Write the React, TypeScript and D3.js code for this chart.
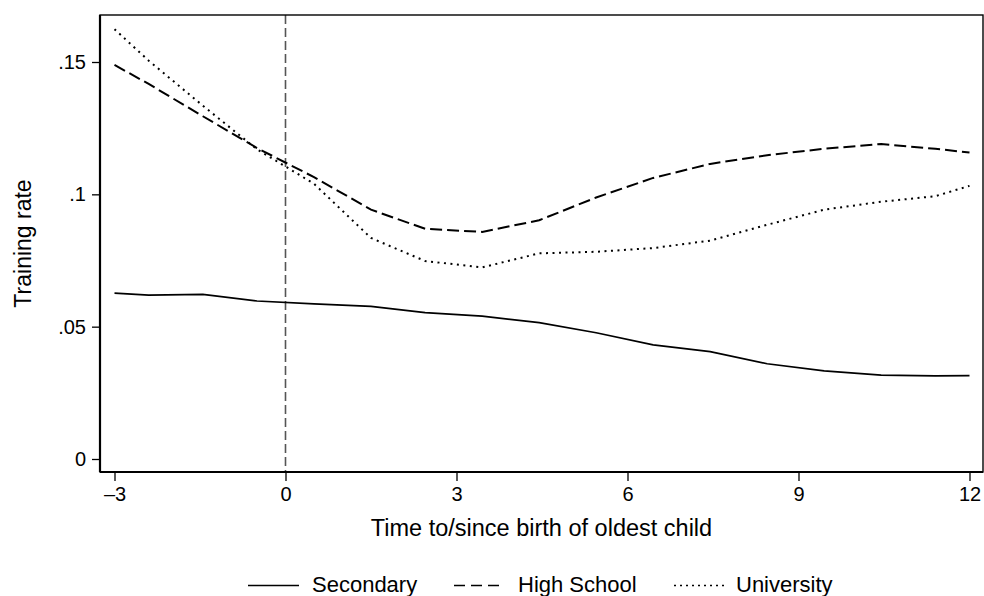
import * as d3 from "d3";
import { useEffect, useRef } from "react";

// years relative to birth of oldest child
const years = [-3, -2.4, -1.45, -0.5, 0.5, 1.5, 2.45, 3.45, 4.45, 5.45, 6.45, 7.45, 8.45, 9.45, 10.45, 11.4, 12];
const secondary = [0.0627, 0.0619, 0.0622, 0.0597, 0.0586, 0.0577, 0.0553, 0.054, 0.0515, 0.0477, 0.0431, 0.0406, 0.036, 0.0333, 0.0317, 0.0314, 0.0315];
const highSchool = [0.1489, 0.1417, 0.1295, 0.1175, 0.1065, 0.0942, 0.087, 0.0858, 0.0902, 0.0988, 0.1062, 0.1115, 0.1148, 0.1172, 0.119, 0.1172, 0.1158];
const university = [0.1624, 0.1505, 0.1335, 0.117, 0.104, 0.0835, 0.0748, 0.0724, 0.0777, 0.0783, 0.0797, 0.0825, 0.0885, 0.0942, 0.0972, 0.0993, 0.1032];

const xTicks = [-3, 0, 3, 6, 9, 12];
const yTicks = [0, 0.05, 0.1, 0.15];
const yTickLabels = ["0", ".05", ".1", ".15"];

const seriesNames = ["Secondary", "High School", "University"];
const dashes = ["none", "12 5", "2 4.5"];

const W = 984;
const H = 596;
const frame = { left: 100, right: 983, top: 15, bottom: 472 };
const font = "'Liberation Sans', Arial, sans-serif";

const App = () => {
  const svgRef = useRef<SVGSVGElement | null>(null);

  useEffect(() => {
    if (!svgRef.current) return;
    const svg = d3.select(svgRef.current);
    svg.selectAll("*").remove();

    const x = d3.scaleLinear().domain([-3, 12]).range([114.5, 969.5]);
    const y = d3.scaleLinear().domain([0, 0.15]).range([459, 62]);

    svg.append("rect")
      .attr("width", W).attr("height", H).attr("fill", "white");

    // vertical reference line at birth
    svg.append("line")
      .attr("x1", x(0)).attr("x2", x(0))
      .attr("y1", frame.top).attr("y2", frame.bottom)
      .attr("stroke", "#555").attr("stroke-width", 1.6)
      .attr("stroke-dasharray", "9 4");

    const line = d3.line<number>()
      .x((_, i) => x(years[i]))
      .y(d => y(d));

    [secondary, highSchool, university].forEach((s, i) => {
      svg.append("path")
        .datum(s)
        .attr("d", line)
        .attr("fill", "none")
        .attr("stroke", "black")
        .attr("stroke-width", i === 0 ? 1.7 : 2)
        .attr("stroke-dasharray", dashes[i]);
    });

    svg.append("rect")
      .attr("x", frame.left).attr("y", frame.top)
      .attr("width", frame.right - frame.left)
      .attr("height", frame.bottom - frame.top)
      .attr("fill", "none").attr("stroke", "black").attr("stroke-width", 1.4);

    // axes
    const xAxis = svg.append("g")
      .attr("transform", `translate(0, ${frame.bottom})`)
      .call(d3.axisBottom(x).tickValues(xTicks).tickSize(9).tickPadding(6)
        .tickFormat(d => (+d < 0 ? "\u2013" + Math.abs(+d) : String(d))));
    xAxis.select(".domain").attr("stroke-width", 2.2)
      .attr("d", `M${frame.left},0H${frame.right}`);

    const yAxis = svg.append("g")
      .attr("transform", `translate(${frame.left}, 0)`)
      .call(d3.axisLeft(y).tickValues(yTicks).tickSize(8).tickPadding(6)
        .tickFormat((_, i) => yTickLabels[i]));
    yAxis.select(".domain").attr("stroke-width", 2.2)
      .attr("d", `M0,${frame.top}V${frame.bottom}`);

    svg.selectAll(".tick line").attr("stroke-width", 1.3);
    svg.selectAll(".tick text")
      .attr("font-family", font).attr("font-size", 20).attr("fill", "black");

    svg.append("text")
      .attr("x", (frame.left + frame.right) / 2).attr("y", 536)
      .attr("text-anchor", "middle")
      .attr("font-family", font).attr("font-size", 23.5)
      .text("Time to/since birth of oldest child");

    svg.append("text")
      .attr("transform", `translate(31, ${(frame.top + frame.bottom) / 2}) rotate(-90)`)
      .attr("text-anchor", "middle")
      .attr("font-family", font).attr("font-size", 23)
      .text("Training rate");

    // legend
    const legendX = [248, 454, 674];
    const legend = svg.append("g");
    seriesNames.forEach((name, i) => {
      legend.append("line")
        .attr("x1", legendX[i]).attr("x2", legendX[i] + 51)
        .attr("y1", 585.5).attr("y2", 585.5)
        .attr("stroke", "black").attr("stroke-width", 1.6)
        .attr("stroke-dasharray", i === 0 ? "none" : i === 1 ? "11 6" : "2 4");
      legend.append("text")
        .attr("x", legendX[i] + (i === 2 ? 62 : 64)).attr("y", 592)
        .attr("font-family", font).attr("font-size", 22)
        .text(name);
    });
  }, []);

  return (
    <svg ref={svgRef} width={W} height={H}
      style={{ position: "absolute", left: 0, top: 0, display: "block" }} />
  );
};

export default App;
